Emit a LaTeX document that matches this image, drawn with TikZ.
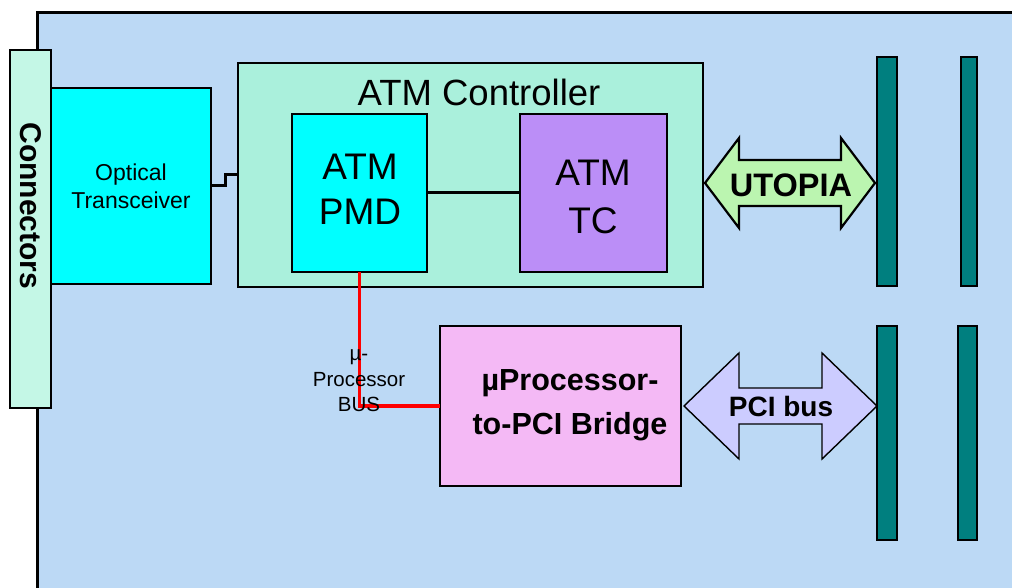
\documentclass[tikz,border=0pt]{standalone}
\usepackage{fontspec}
\setmainfont{Liberation Sans}
\definecolor{board}{HTML}{BCD9F5}
\definecolor{conn}{HTML}{C4F7E6}
\definecolor{ctrl}{HTML}{AAF0DC}
\definecolor{aqua}{HTML}{00FFFF}
\definecolor{tcpurple}{HTML}{BB8EF7}
\definecolor{bridgepink}{HTML}{F4B9F5}
\definecolor{utgreen}{HTML}{BBF5B0}
\definecolor{pcilav}{HTML}{CCCCFF}
\definecolor{slot}{HTML}{007F7F}
\newcommand{\fs}[2]{\fontsize{#1}{#2}\selectfont}
\begin{document}
\begin{tikzpicture}[x=1pt,y=-1pt,
  box/.style={draw=black, line width=2pt, inner sep=0pt, outer sep=0pt},
  slotbar/.style={box, fill=slot, line width=2.4pt},
  wire/.style={draw=black, line width=3pt},
  redwire/.style={draw=red, line width=3.5pt},
  bigarrow/.style={draw=black, line width=1.4pt, line join=miter},
  lbl/.style={inner sep=0pt, align=center}]
\useasboundingbox (0,0) rectangle (1012,588);
% board
\fill[board] (37,13) rectangle (1012,588);
\draw[line width=3pt] (37,588) -- (37,13) -- (1012,13);
% connectors
\node[box, fill=conn, line width=2.6pt, minimum width=41pt, minimum height=358pt] (conn) at (30.5,229) {};
\node[lbl, rotate=-90, font=\fs{30}{36}\bfseries] (conntxt) at (30.5,206) {Connectors};
% optical transceiver
\node[box, fill=aqua, line width=1.5pt, minimum width=160pt, minimum height=196pt] (opt) at (131,186) {};
\node[lbl, font=\fs{23}{28}] (opttxt) at (131,186) {Optical\\Transceiver};
% ATM controller
\node[box, fill=ctrl, minimum width=465pt, minimum height=224pt] (ctrl) at (470.5,175) {};
\node[lbl, font=\fs{36.5}{40}] (ctrltxt) at (479,92) {ATM Controller};
\node[box, fill=aqua, minimum width=135pt, minimum height=158pt] (pmd) at (359.5,193) {};
\node[lbl, font=\fs{37}{45}] (pmdtxt) at (360,189) {ATM\\PMD};
\node[box, fill=tcpurple, minimum width=147pt, minimum height=158pt] (tc) at (593.5,193) {};
\node[lbl, font=\fs{37}{48}] (tctxt) at (593,197) {ATM\\TC};
% bridge
\node[box, fill=bridgepink, line width=1.2pt, minimum width=241pt, minimum height=160pt] (bridge) at (560.5,406) {};
\node[lbl, font=\fs{30.5}{44}\bfseries] (bridgetxt) at (570,405) {µProcessor-\\to-PCI Bridge};
% slots
\node[slotbar, minimum width=20pt, minimum height=229pt] (s1) at (887,171.5) {};
\node[slotbar, minimum width=16.5pt, minimum height=229pt] (s2) at (969,171.5) {};
\node[slotbar, minimum width=20pt, minimum height=214pt] (s3) at (887,433) {};
\node[slotbar, minimum width=18.5pt, minimum height=214pt] (s4) at (967.5,433) {};
% wires
\draw[wire] (opt.east) -- ++(14,0) |- (ctrl.west);
\draw[wire] (pmd.east) -- (tc.west);
\draw[redwire] (pmd.south) |- (bridge.west);
\node[lbl, font=\fs{20.5}{25.5}] (bustxt) at (359,381) {µ-\\Processor\\BUS};
% UTOPIA arrow
\draw[bigarrow, fill=utgreen, line width=2.2pt] (705,183) -- (739,138) -- (739,160) -- (841,160) -- (841,138) -- (875,183) -- (841,228) -- (841,206) -- (739,206) -- (739,228) -- cycle;
\node[lbl, font=\fs{32.5}{38}\bfseries] (uttxt) at (791,185) {UTOPIA};
% PCI arrow
\draw[bigarrow, fill=pcilav] (684,406) -- (739,353) -- (739,388) -- (822,388) -- (822,353) -- (877,406) -- (822,459) -- (822,424) -- (739,424) -- (739,459) -- cycle;
\node[lbl, font=\fs{28}{34}\bfseries] (pcitxt) at (781,406) {PCI bus};
\end{tikzpicture}
\end{document}
